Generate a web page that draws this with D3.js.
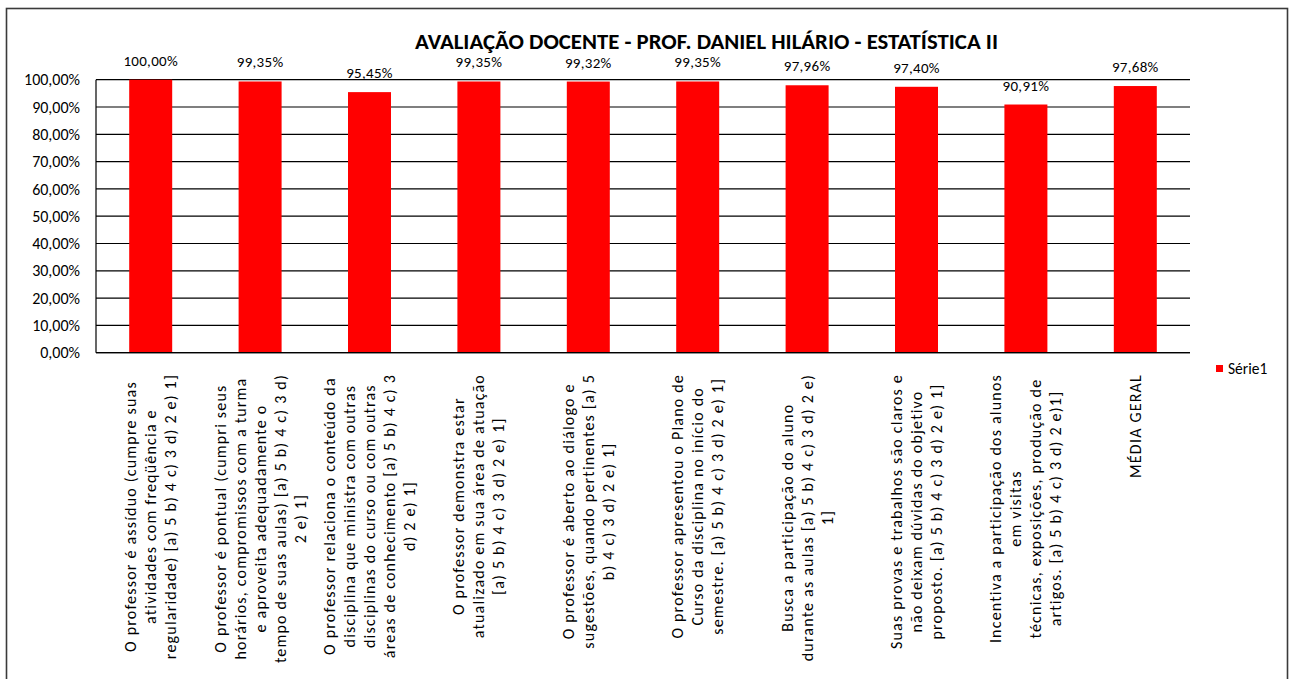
<!DOCTYPE html>
<html><head><meta charset="utf-8">
<script src="https://cdn.jsdelivr.net/npm/d3@7"></script>
<style>
html,body{margin:0;padding:0;background:#fff;}
svg{display:block;font-family:Carlito,Calibri,Lato,sans-serif;}
</style></head>
<body>
<svg id="chart" width="1295" height="679"></svg>
<script>
const title = "AVALIAÇÃO DOCENTE - PROF. DANIEL HILÁRIO - ESTATÍSTICA II";
const categories = [
  ["O professor é assíduo (cumpre suas", "atividades com freqüência e", "regularidade) [a) 5 b) 4 c) 3 d) 2 e) 1]"],
  ["O professor é pontual (cumpri seus", "horários, compromissos com a turma", "e aproveita adequadamente o", "tempo de suas aulas) [a) 5 b) 4 c) 3 d)", "2 e) 1]"],
  ["O professor relaciona o conteúdo da", "disciplina que ministra com outras", "disciplinas do curso ou com outras", "áreas de conhecimento [a) 5 b) 4 c) 3", "d) 2 e) 1]"],
  ["O professor demonstra estar", "atualizado em sua área de atuação", "[a) 5 b) 4 c) 3 d) 2 e) 1]"],
  ["O professor é aberto ao diálogo e", "sugestões, quando pertinentes [a) 5", "b) 4 c) 3 d) 2 e) 1]"],
  ["O professor apresentou o Plano de", "Curso da disciplina no início do", "semestre. [a) 5 b) 4 c) 3 d) 2 e) 1]"],
  ["Busca a participação do aluno", "durante as aulas [a) 5 b) 4 c) 3 d) 2 e)", "1]"],
  ["Suas provas e trabalhos são claros e", "não deixam dúvidas do objetivo", "proposto. [a) 5 b) 4 c) 3 d) 2 e) 1]"],
  ["Incentiva a participação dos alunos", "em visitas", "técnicas, exposições, produção de", "artigos. [a) 5 b) 4 c) 3 d) 2 e)1]"],
  ["MÉDIA GERAL"]
];
const values = [1.0000, 0.9935, 0.9545, 0.9935, 0.9932, 0.9935, 0.9796, 0.9740, 0.9091, 0.9768];
const yTicks = [0, 0.1, 0.2, 0.3, 0.4, 0.5, 0.6, 0.7, 0.8, 0.9, 1.0];
const seriesName = "Série1";

const locale = d3.formatLocale({decimal: ",", thousands: ".", grouping: [3], currency: ["R$", ""]});
const fmt = locale.format(".2%");

const svg = d3.select("#chart");
const plot = {left: 96, right: 1190, top: 79.7, bottom: 352.7};

// outer border
svg.append("rect").attr("x", 6.5).attr("y", 8.5).attr("width", 1281).attr("height", 720)
  .attr("fill", "#fff").attr("stroke", "#3a3a3a").attr("stroke-width", 1.6);

const idx = d3.range(values.length);
const x = d3.scaleBand().domain(idx).range([plot.left, plot.right]).padding(0);
const y = d3.scaleLinear().domain([0, 1]).range([plot.bottom, plot.top]);

// gridlines
svg.append("g").selectAll("line").data(yTicks).join("line")
  .attr("x1", plot.left).attr("x2", plot.right)
  .attr("y1", d => y(d)).attr("y2", d => y(d))
  .attr("stroke", "#000").attr("stroke-width", 1.2);

// y axis line
svg.append("line").attr("x1", plot.left).attr("x2", plot.left)
  .attr("y1", y(0)).attr("y2", y(1)).attr("stroke", "#000").attr("stroke-width", 1.2);

// y tick labels
svg.append("g").selectAll("text").data(yTicks).join("text")
  .attr("x", 80).attr("y", d => y(d)).attr("dy", "0.35em")
  .attr("text-anchor", "end").attr("font-size", 16).attr("fill", "#000")
  .text(d => fmt(d));

// bars
const bw = x.bandwidth() * 0.393;
svg.append("g").selectAll("rect").data(idx).join("rect")
  .attr("x", i => x(i) + (x.bandwidth() - bw) / 2)
  .attr("width", bw)
  .attr("y", i => y(values[i]))
  .attr("height", i => y(0) - y(values[i]))
  .attr("fill", "#ff0000");

// x axis baseline
svg.append("line").attr("x1", plot.left).attr("x2", plot.right)
  .attr("y1", y(0)).attr("y2", y(0)).attr("stroke", "#000").attr("stroke-width", 1.2);

// data labels
svg.append("g").selectAll("text").data(idx).join("text")
  .attr("x", i => x(i) + x.bandwidth() / 2)
  .attr("y", i => y(values[i]) - 14)
  .attr("text-anchor", "middle").attr("font-size", 15).attr("letter-spacing", "0.3px").attr("fill", "#000")
  .text(i => fmt(values[i]));

// category labels (rotated)
const labelTop = 374, lineH = 20;
idx.forEach(i => {
  const lines = categories[i];
  const cx = x(i) + x.bandwidth() / 2;
  const g = svg.append("g").attr("transform", `translate(${cx},0) rotate(-90)`);
  const texts = g.selectAll("text").data(lines).join("text")
    .attr("font-size", 16).attr("letter-spacing", "1.2px").attr("fill", "#000")
    .attr("text-anchor", "middle").attr("dominant-baseline", "central")
    .attr("y", (d, k) => (k - (lines.length - 1) / 2) * lineH)
    .text(d => d);
  let maxW = 0;
  texts.each(function() { maxW = Math.max(maxW, this.getComputedTextLength()); });
  texts.attr("x", -(labelTop + maxW / 2));
});

// title
svg.append("text").attr("x", 706.5).attr("y", 48.5)
  .attr("text-anchor", "middle").attr("font-size", 22).attr("font-weight", 900)
  .attr("textLength", 583).attr("lengthAdjust", "spacingAndGlyphs")
  .attr("fill", "#000").text(title);

// legend
svg.append("rect").attr("x", 1216).attr("y", 365).attr("width", 7).attr("height", 7).attr("fill", "#ff0000");
svg.append("text").attr("x", 1228).attr("y", 369).attr("dy", "0.35em")
  .attr("font-size", 15.5).attr("fill", "#000").text(seriesName);
</script>
</body></html>
